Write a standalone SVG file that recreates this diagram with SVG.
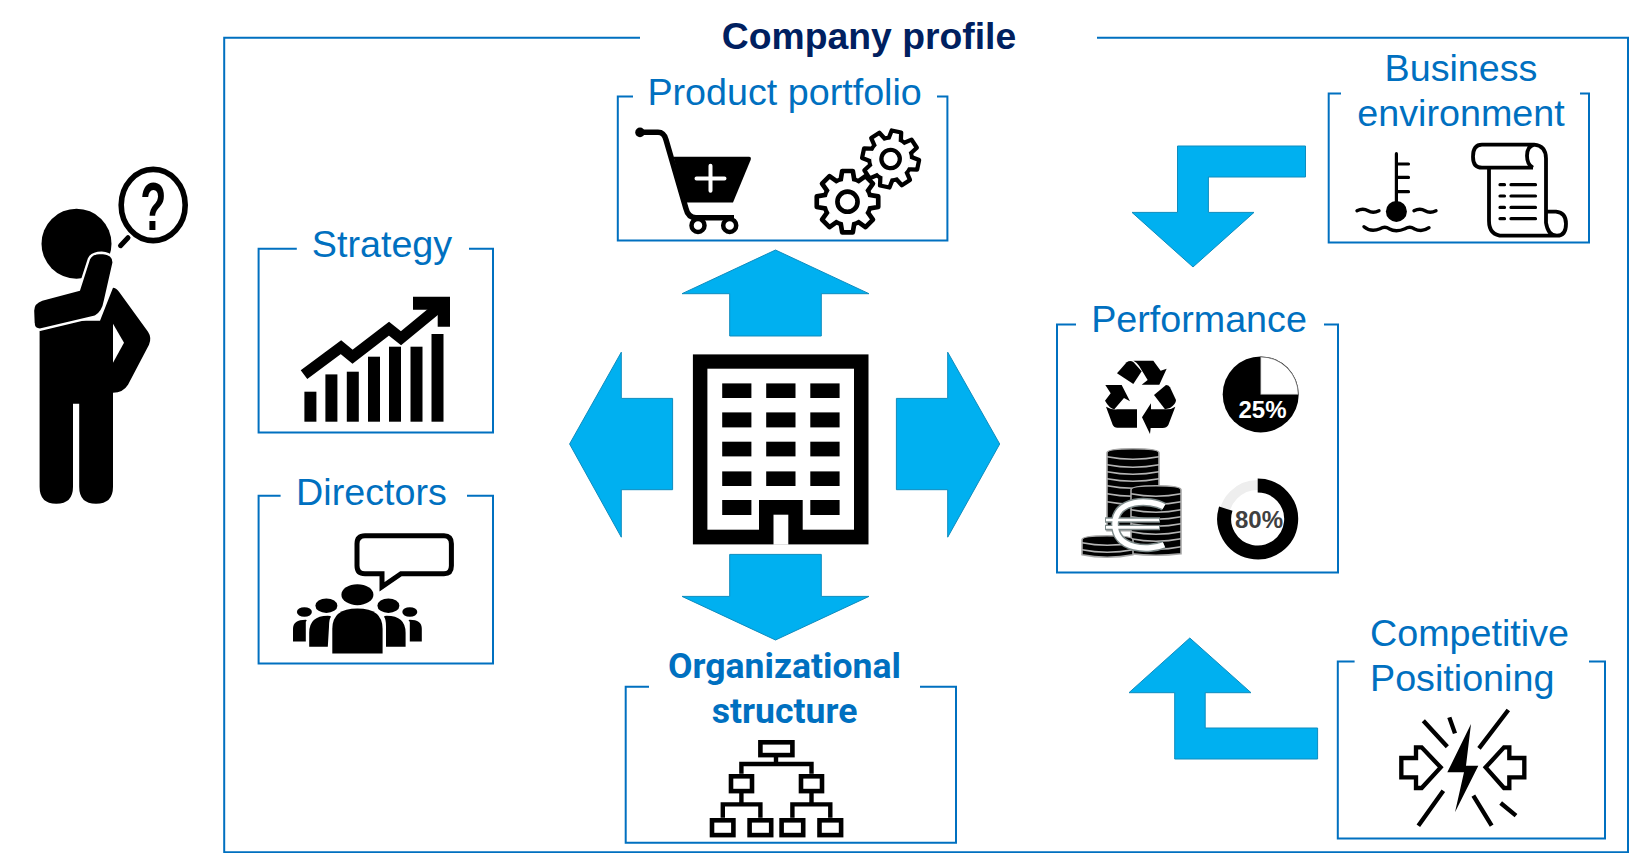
<svg xmlns="http://www.w3.org/2000/svg" xmlns:xlink="http://www.w3.org/1999/xlink" width="1630" height="853" viewBox="0 0 1630 853">
<style>
.box{fill:none;stroke:#0070C0;stroke-width:2}
.lbl{font-family:"Liberation Sans",Arial,sans-serif;font-size:37.7px;fill:#0070C0}
.bold{font-family:Roboto,"Liberation Sans",sans-serif;font-weight:700;font-size:35.6px;fill:#0070C0;text-anchor:middle}
.mid{text-anchor:middle}
.title{font-family:"Liberation Sans",Arial,sans-serif;font-size:37.3px;font-weight:700;fill:#002060;text-anchor:middle}
.arrow{fill:#00B0F0;stroke:#0E8CBE;stroke-width:1}
.pct{font-family:"Liberation Sans",Arial,sans-serif;font-size:24px;font-weight:700;text-anchor:middle}
.gl{fill:none;stroke:#000;stroke-width:3;stroke-linecap:round}
.coin{fill:none;stroke:#b4b4b4;stroke-width:1.6}
.org{fill:#fff;stroke:#000;stroke-width:4.6}
.orgl{fill:none;stroke:#000;stroke-width:4.4}
</style>
<defs>
<g id="gear-tooth"><path d="M-7,-17 L-5,-29 H5 L7,-17 Z" fill="#fff" stroke="#000" stroke-width="4.4" stroke-linejoin="round"/></g>
<g id="gear">
<circle r="24" fill="#000"/>
<use xlink:href="#gear-tooth"/><use xlink:href="#gear-tooth" transform="rotate(45)"/><use xlink:href="#gear-tooth" transform="rotate(90)"/><use xlink:href="#gear-tooth" transform="rotate(135)"/><use xlink:href="#gear-tooth" transform="rotate(180)"/><use xlink:href="#gear-tooth" transform="rotate(225)"/><use xlink:href="#gear-tooth" transform="rotate(270)"/><use xlink:href="#gear-tooth" transform="rotate(315)"/>
<circle r="20" fill="#fff"/>
<circle r="9.5" fill="#fff" stroke="#000" stroke-width="4.4"/>
</g>
</defs>
<rect width="1630" height="853" fill="#fff"/>
<g transform="translate(0,.7)">

<g id="person">
<circle cx="76.5" cy="243" r="35" fill="#000"/>
<path d="M39.6,320 H100 L113,287 Q116,287 119,291 L148,331 Q152,337 149,344 L128,384 Q123,392 113,392 V486 Q113,503 96,503 Q79.2,503 79.2,486 V403 H73 V486 Q73,503 56.3,503 Q39.6,503 39.6,486 Z" fill="#000"/>
<path d="M113,323 L124,342 L113,362 Z" fill="#fff"/>
<path d="M33.5,323 L33,310 Q33,302 42,299 L79,289 L89,258 Q92,252 101.6,252 Q114,253 113.6,262 L105,300 Q103,312 95,316 L40,329 Q34,329 33.5,323 Z" fill="#000" stroke="#fff" stroke-width="2.4"/>
<ellipse cx="153.2" cy="204.3" rx="32" ry="35.6" fill="#fff" stroke="#000" stroke-width="5.6"/>
<path d="M128,237 L120.5,245" fill="none" stroke="#000" stroke-width="5" stroke-linecap="round"/>
<text transform="translate(153.2,229) scale(.62,1)" text-anchor="middle" font-family="'Liberation Sans',Arial,sans-serif" font-weight="700" font-size="69">?</text>
</g>

<g id="company-profile">
<path class="box" d="M640,37 H224.2 V851.5 H1628 V37 H1097"/>
<text class="title" x="869" y="48">Company profile</text>
</g>

<g id="connectors">
<polygon class="arrow" points="775.5,249.3 869,293 821.3,293 821.3,335.3 729.7,335.3 729.7,293 682,293"/>
<polygon class="arrow" points="775.5,639.3 869,595.7 821.3,595.7 821.3,553.7 729.7,553.7 729.7,595.7 682,595.7"/>
<polygon class="arrow" points="569.6,443.3 621.3,351.5 621.3,397.7 672.6,397.7 672.6,489 621.3,489 621.3,536.5"/>
<polygon class="arrow" points="999.7,443.3 947.7,351.5 947.7,397.7 896.4,397.7 896.4,489 947.7,489 947.7,536.5"/>
<polygon class="arrow" points="1305.5,145.3 1177.5,145.3 1177.5,211.7 1132,211.7 1193,266.3 1254,211.7 1208.4,211.7 1208.4,176.3 1305.5,176.3"/>
<polygon class="arrow" points="1317.6,758.3 1174.7,758.3 1174.7,692 1129,692 1189.8,637.3 1251,692 1205.2,692 1205.2,727.3 1317.6,727.3"/>
</g>

<g id="building">
<rect x="692.9" y="353.7" width="175.6" height="190" fill="#000"/>
<rect x="707.4" y="368" width="146.6" height="161" fill="#fff"/>
<g fill="#000">
<rect x="722.2" y="382.7" width="29.2" height="14.6"/><rect x="766.2" y="382.7" width="29.3" height="14.6"/><rect x="810.3" y="382.7" width="29.3" height="14.6"/>
<rect x="722.2" y="411.7" width="29.2" height="15"/><rect x="766.2" y="411.7" width="29.3" height="15"/><rect x="810.3" y="411.7" width="29.3" height="15"/>
<rect x="722.2" y="441" width="29.2" height="14.7"/><rect x="766.2" y="441" width="29.3" height="14.7"/><rect x="810.3" y="441" width="29.3" height="14.7"/>
<rect x="722.2" y="470.7" width="29.2" height="14.6"/><rect x="766.2" y="470.7" width="29.3" height="14.6"/><rect x="810.3" y="470.7" width="29.3" height="14.6"/>
<rect x="722.2" y="499.3" width="29.2" height="15"/><rect x="810.3" y="499.3" width="29.3" height="15"/>
<rect x="759" y="499.3" width="43.7" height="30"/>
</g>
<rect x="773.5" y="514" width="14.8" height="30" fill="#fff"/>
</g>

<g id="product-portfolio">
<path class="box" d="M633,95.7 H617.8 V239.7 H947.4 V95.7 H937"/>
<text class="lbl mid" x="784.6" y="104">Product portfolio</text>
<path d="M640,131.5 H658 Q664,131.5 666,139 L686,208 Q688,217 696,217 H734" fill="none" stroke="#000" stroke-width="5.5"/>
<circle cx="640" cy="131.7" r="4.8"/>
<path d="M673.6,156 H749 Q751.5,156 750.7,159 L733,201.7 H684.6 Z" fill="#000"/>
<path d="M696.5,177.7 H724.5 M710.5,165 V190" stroke="#fff" stroke-width="4" stroke-linecap="round"/>
<circle cx="698" cy="224.7" r="6.5" fill="#fff" stroke="#000" stroke-width="4.5"/>
<circle cx="729.7" cy="224.7" r="6.5" fill="#fff" stroke="#000" stroke-width="4.5"/>
<use xlink:href="#gear" transform="translate(890.6,158.3) rotate(12) scale(.97)"/>
<use xlink:href="#gear" transform="translate(847.5,201) scale(1.06)"/>
</g>

<g id="strategy">
<path class="box" d="M296.8,248 H258.6 V431.7 H493 V248 H469"/>
<text class="lbl mid" x="382" y="256.7">Strategy</text>
<g fill="#000">
<rect x="304.4" y="391" width="12" height="30"/><rect x="325.4" y="373.7" width="12" height="47.3"/><rect x="346.8" y="371" width="12" height="50"/><rect x="368" y="356" width="12" height="65"/><rect x="389" y="346" width="12" height="75"/><rect x="410.5" y="346" width="12" height="75"/><rect x="431.5" y="333.3" width="12" height="87.7"/>
<path d="M413,296 H450 V326 H437.7 V309 H413 Z"/>
</g>
<path d="M304,374 L341,346.5 L352.6,356 L389,328 L401,337.5 L438,307" fill="none" stroke="#000" stroke-width="11"/>
</g>

<g id="directors">
<path class="box" d="M280.6,495 H258.6 V662.7 H493 V495 H467"/>
<text class="lbl mid" x="371.5" y="504.3">Directors</text>
<path d="M365,535 H444 Q451.4,535 451.4,543 V565 Q451.4,573 444,573 H401 L382,586 V573 H365 Q357,573 357,565 V543 Q357,535 365,535 Z" fill="#fff" stroke="#000" stroke-width="5"/>
<g fill="#000">
<ellipse cx="357.4" cy="594" rx="16" ry="10.5"/>
<ellipse cx="326.4" cy="605" rx="11" ry="7.3"/><ellipse cx="388.4" cy="605" rx="11" ry="7.3"/>
<ellipse cx="304.4" cy="611.3" rx="7.5" ry="4.8"/><ellipse cx="409.8" cy="611.3" rx="7.5" ry="4.8"/>
<path d="M332.3,652.7 V628 Q332.3,607.7 357.4,607.7 Q382.6,607.7 382.6,628 V652.7 Z"/>
<path d="M309.2,646 V632 Q309.2,615 327.8,615 Q331,615 331,616 Q329,618 329,626 L327.8,646 Z"/>
<path d="M405.6,646 V632 Q405.6,615 386.7,615 Q384,615 384,616 Q386,618 386,626 V646 Z"/>
<path d="M293,640.7 V628 Q293,619 305.8,619 Q307.5,619 305.8,621 V640.7 Z"/>
<path d="M421.8,640.7 V628 Q421.8,619 409.8,619 Q407.5,619 409.8,621 V640.7 Z"/>
</g>
</g>

<g id="business-environment">
<path class="box" d="M1341,92.7 H1328.7 V241.7 H1589 V92.7 H1580"/>
<text class="lbl mid" x="1461" y="80">Business</text>
<text class="lbl mid" x="1461" y="125">environment</text>
<path d="M1396.4,153 V205 M1396.4,163.3 H1408.5 M1396.4,176.7 H1408.5 M1396.4,191 H1408.5" fill="none" stroke="#000" stroke-width="3.2" stroke-linecap="round"/>
<circle cx="1396.4" cy="210.7" r="10.5"/>
<path class="gl" d="M1357,210 q6,-3 11,0 t11,0 M1414,210 q6,-3 11,0 t11,0 M1364,226 q7,6 16,2 q5,-3 9,0 q7,4 16,0 q5,-3 9,0 q8,4 15,-1" style="stroke-width:3.4"/>
<path d="M1489,167 V220 Q1489,235 1503,235 H1556 M1546,157 V222 Q1548,235 1557,235 Q1566,235 1566,223 Q1566,212 1556,211 H1546 M1533,167 H1482 Q1473,167 1473,156 Q1473,144 1482,144 H1534 Q1546,145 1546,158 M1534,144 Q1527,146 1527,155 Q1527,164 1533,167" fill="none" stroke="#000" stroke-width="3.8"/>
<path d="M1500,184 H1504.5 M1511,184 H1535.5 M1500,195.3 H1504.5 M1511,195.3 H1535.5 M1500,206.7 H1504.5 M1511,206.7 H1535.5 M1500,218 H1504.5 M1511,218 H1535.5" stroke="#000" stroke-width="3.2" stroke-linecap="round"/>
</g>

<g id="performance">
<path class="box" d="M1076,323.7 H1057 V571.7 H1338 V323.7 H1324"/>
<text class="lbl mid" x="1199" y="331.7">Performance</text>
<g id="recycle" transform="translate(1070,350) scale(.3333)" fill="#000">
<path d="M141,68 L170,35 Q180,28 190,34 L215,62 L190,100 Z"/>
<path d="M190,30 H250 L272,60 L290,54 L268,102 H215 L233,88 L207,45 Q200,34 190,30 Z"/>
<path d="M106,103 H155 L180,152 L162,142 L133,176 Q118,173 105,150 L122,128 Z"/>
<path d="M108,168 Q125,178 142,176 H201 V231 H142 Q132,231 128,222 Z"/>
<path d="M252,133 L288,103 Q296,103 300,110 L318,148 Q318,160 300,172 L285,176 Z"/>
<path d="M316,168 L295,223 Q290,232 278,232 H242 L240,250 L216,200 L243,158 V176 H290 Q305,176 316,168 Z"/>
</g>
<g id="pie-25">
<circle cx="1260.7" cy="393.7" r="38" fill="#000"/>
<path d="M1260.7,356.2 A37.5,37.5 0 0 1 1298.2,393.7 H1260.7 Z" fill="#fff" stroke="#777" stroke-width=".6"/>
<text class="pct" x="1262.5" y="417" fill="#fff">25%</text>
</g>
<g id="coins" fill="#000" stroke="#a8a8a8" stroke-width="1.6">
<path d="M1107,452 Q1107,448 1133,448 Q1159,448 1159,452 V530 H1107 Z"/>
<path class="coin" d="M1107,456 q26,5 52,0 M1107,464 q26,5 52,0 M1107,471 q26,5 52,0 M1107,478 q26,5 52,0 M1107,485 q26,5 52,0 M1107,493 q26,5 52,0 M1107,501 q26,5 52,0"/>
<path d="M1131,489 Q1131,485 1156,485 Q1181,485 1181,489 V553 Q1156,556 1131,553 Z"/>
<path class="coin" d="M1131,493 q25,5 50,0 M1131,501 q25,5 50,0 M1131,509 q25,5 50,0 M1131,516 q25,5 50,0 M1131,523 q25,5 50,0 M1131,531 q25,5 50,0 M1131,538 q25,5 50,0 M1131,546 q25,5 50,0"/>
<path d="M1082,539 Q1082,535 1107,535 Q1133,535 1133,539 V554 Q1107,559 1082,554 Z"/>
<path class="coin" d="M1082,542 q25,5 51,0 M1082,549 q25,5 51,0"/>
</g>
<g id="euro" fill="none">
<path d="M1164,506 C1150,498 1115,498 1115,523 C1115,550 1150,550 1164,544" stroke="#7d8a8a" stroke-width="8.5"/>
<path d="M1105,519.3 H1160 M1105,526.7 H1160" stroke="#7d8a8a" stroke-width="5.5"/>
<path d="M1164,506 C1150,498 1115,498 1115,523 C1115,550 1150,550 1164,544" stroke="#fff" stroke-width="5.5"/>
<path d="M1106,519.3 H1159 M1106,526.7 H1159" stroke="#fff" stroke-width="2.6"/>
</g>
<g id="donut-80">
<circle cx="1257.7" cy="518.3" r="34" fill="none" stroke="#eeeeee" stroke-width="10"/>
<path d="M1257.7,484.8 A33.5,33.5 0 1 1 1225.8,508" fill="none" stroke="#000" stroke-width="14"/>
<text class="pct" x="1259" y="527" fill="#404040">80%</text>
</g>
</g>

<g id="organizational-structure">
<path class="box" d="M649,686 H625.7 V842 H956 V686 H920"/>
<text class="bold" x="784.5" y="677">Organizational</text>
<text class="bold" x="784.5" y="722">structure</text>
<path class="orgl" d="M776,756 V763.3 M741.4,773 V763.3 H811.5 V773 M741.4,792 V803.7 M722.8,817 V803.7 H760.4 V817 M811.5,792 V803.7 M792.4,817 V803.7 H830.3 V817"/>
<rect class="org" x="760.4" y="741.6" width="32" height="12.8"/>
<rect class="org" x="731" y="775.6" width="21" height="14.8"/><rect class="org" x="801" y="775.6" width="21" height="14.8"/>
<rect class="org" x="712" y="819.6" width="21.4" height="14.8"/><rect class="org" x="749.6" y="819.6" width="21.6" height="14.8"/><rect class="org" x="781.6" y="819.6" width="21.6" height="14.8"/><rect class="org" x="819.5" y="819.6" width="21.6" height="14.8"/>
</g>

<g id="competitive-positioning">
<path class="box" d="M1354.6,660.7 H1337.8 V837.7 H1605 V660.7 H1589"/>
<text class="lbl" x="1370" y="645">Competitive</text>
<text class="lbl" x="1370" y="690">Positioning</text>
<g transform="translate(1390,700) scale(.3333)">
<path d="M100,60 L172,138 M178,50 L195,98 M355,28 L267,143 M160,270 L85,375 M250,285 L305,375 M332,307 L378,345" stroke="#000" stroke-width="13" fill="none"/>
<path d="M34,172 H78 V140 H95 L152,200 L95,262 H78 V230 H34 Z M403,172 H358 V140 H342 L287,200 L342,262 H358 V230 H403 Z" fill="#fff" stroke="#000" stroke-width="13"/>
<path d="M243,70 L172,215 H222 L195,335 L265,195 H228 Z" fill="#000"/>
</g>
</g>
</g>
</svg>
